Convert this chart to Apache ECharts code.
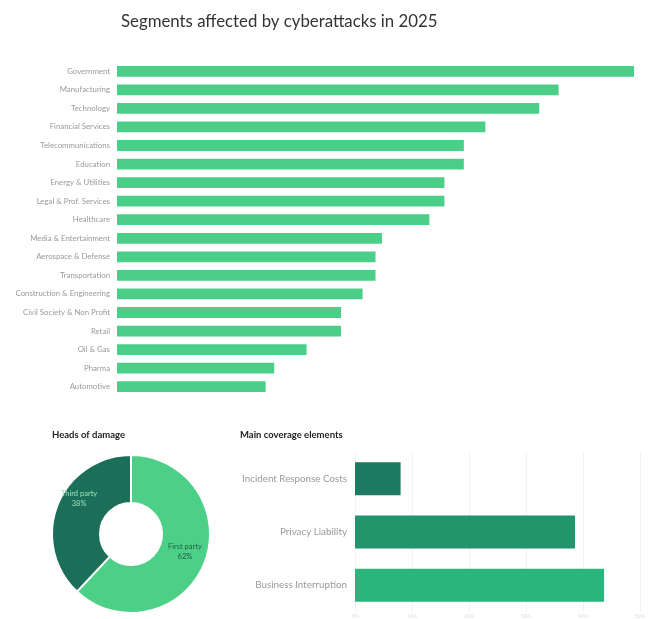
<!DOCTYPE html>
<html>
<head>
<meta charset="utf-8">
<script src="https://cdn.jsdelivr.net/npm/echarts@6/dist/echarts.min.js"></script>
<style>
  html, body { margin: 0; padding: 0; background: #fff; }
  #chart { width: 656px; height: 619px; }
</style>
</head>
<body>
<div id="chart"></div>
<script>
"use strict";

const segments = [
  "Government", "Manufacturing", "Technology", "Financial Services",
  "Telecommunications", "Education", "Energy & Utilities", "Legal & Prof. Services",
  "Healthcare", "Media & Entertainment", "Aerospace & Defense", "Transportation",
  "Construction & Engineering", "Civil Society & Non Profit", "Retail", "Oil & Gas",
  "Pharma", "Automotive",
];
const segmentValues = [24, 20.5, 19.6, 17.1, 16.1, 16.1, 15.2, 15.2, 14.5, 12.3, 12, 12, 11.4, 10.4, 10.4, 8.8, 7.3, 6.9];

const damageHeads = ["First party", "Third party"];
const damageShares = [62, 38];

const coverageItems = ["Incident Response Costs", "Privacy Liability", "Business Interruption"];
const coverageValues = [8, 38.6, 43.7];

const chart = echarts.init(document.getElementById("chart"), null, { width: 656, height: 619 });

const green = "#4bcf88";
const coverageColors = ["#1b7a60", "#22956d", "#2bb47b"];

chart.setOption({
  animation: false,
  title: [
    {
      text: "Segments affected by cyberattacks in 2025",
      left: 116, top: 8,
      textStyle: { fontFamily: "Lato", fontSize: 16.8, fontWeight: "normal", color: "#333" },
    },
    {
      text: "Heads of damage",
      left: 47, top: 425,
      textStyle: { fontFamily: "Lato", fontSize: 9.5, fontWeight: "bold", color: "#222" },
    },
    {
      text: "Main coverage elements",
      left: 235, top: 425,
      textStyle: { fontFamily: "Lato", fontSize: 9.5, fontWeight: "bold", color: "#222" },
    },
  ],
  grid: [
    { left: 117, right: 22, top: 62, height: 334 },
    { left: 355, right: 16, top: 452, height: 160 },
  ],
  xAxis: [
    { gridIndex: 0, type: "value", min: 0, max: 24, show: false },
    {
      gridIndex: 1, type: "value", min: 0, max: 50, interval: 10,
      axisLine: { show: false }, axisTick: { show: false },
      splitLine: { lineStyle: { color: "#f2f2f2" } },
      axisLabel: { color: "#ddd", fontSize: 5, margin: 2, formatter: (v) => v + "%" },
    },
  ],
  yAxis: [
    {
      gridIndex: 0, type: "category", data: segments, inverse: true,
      axisLine: { show: false }, axisTick: { show: false },
      axisLabel: { color: "#999", fontSize: 7.8, fontFamily: "Lato", margin: 7 },
    },
    {
      gridIndex: 1, type: "category", data: coverageItems, inverse: true,
      axisLine: { show: false }, axisTick: { show: false },
      axisLabel: { color: "#999", fontSize: 9.8, fontFamily: "Lato", margin: 8 },
    },
  ],
  series: [
    {
      type: "bar", xAxisIndex: 0, yAxisIndex: 0,
      data: segmentValues, barCategoryGap: "42%",
      itemStyle: { color: green },
    },
    {
      type: "bar", xAxisIndex: 1, yAxisIndex: 1,
      data: coverageValues.map((v, i) => ({ value: v, itemStyle: { color: coverageColors[i] } })),
      barCategoryGap: "38%",
    },
    {
      type: "pie",
      center: [131, 534], radius: [31, 79],
      startAngle: 90, clockwise: true,
      itemStyle: { borderColor: "#fff", borderWidth: 2 },
      label: {
        position: "inner", fontSize: 7.5, fontFamily: "Lato", lineHeight: 10,
        formatter: (p) => p.name + "\n" + p.value + "%",
      },
      labelLine: { show: false },
      data: damageHeads.map((name, i) => ({
        name, value: damageShares[i],
        itemStyle: { color: i === 0 ? "#4ccf86" : "#1b6e57" },
        label: { color: i === 0 ? "#1e5e44" : "#9fe0bd", offset: i === 0 ? [0, -4] : [2, -14] },
      })),
    },
  ],
});
</script>
</body>
</html>
